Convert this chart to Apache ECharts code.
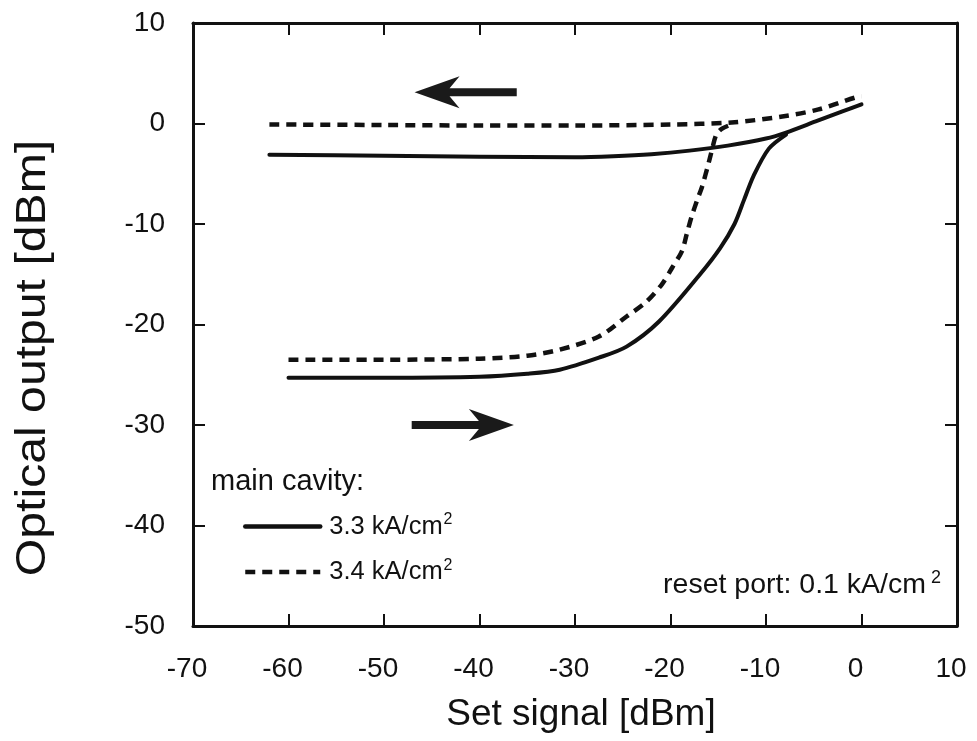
<!DOCTYPE html>
<html>
<head>
<meta charset="utf-8">
<script src="https://cdn.jsdelivr.net/npm/echarts@6/dist/echarts.min.js"></script>
<style>
  html, body { margin: 0; padding: 0; background: #fff; }
  #chart { width: 977px; height: 741px; }
</style>
</head>
<body>
<div id="chart"></div>
<script>
// Axis ranges and ticks
const xRange = [-70, 10];
const yRange = [-50, 10];
const tickStep = 10;

// Series names (main cavity current density)
const nameA = '3.3 kA/cm²';
const nameB = '3.4 kA/cm²';

// 3.3 kA/cm², decreasing sweep (upper branch)
const upperA_x = [-62, -50, -40, -30, -26, -22, -18, -14, -10, -7.9, -4.8, -2, 0];
const upperA_y = [-3.1, -3.2, -3.3, -3.35, -3.25, -3.05, -2.7, -2.2, -1.5, -0.9, 0.2, 1.2, 1.9];

// 3.3 kA/cm², increasing sweep (lower branch)
const lowerA_x = [-60, -50, -40, -35, -31.6, -27.5, -24.6, -21.2, -16.9, -14.8, -13.3, -12.3, -11.3, -9.7, -7.9];
const lowerA_y = [-25.3, -25.3, -25.2, -24.9, -24.5, -23.3, -22.2, -19.7, -15.0, -12.4, -10.0, -7.6, -5.2, -2.5, -1.1];

// 3.4 kA/cm², decreasing sweep (upper branch)
const upperB_x = [-62, -50, -40, -30, -20, -13.6, -8.3, -4.5, -0.6, 0];
const upperB_y = [-0.1, -0.15, -0.2, -0.2, -0.1, 0.1, 0.7, 1.4, 2.6, 2.7];

// 3.4 kA/cm², increasing sweep (lower branch)
const lowerB_x = [-60, -50, -40, -35, -31.6, -27.5, -24.6, -22.6, -20.9, -19.8, -18.8, -18.3, -17.8, -17.2, -16.7, -16.0, -15.6, -15.2, -14.6, -13.6];
const lowerB_y = [-23.5, -23.5, -23.4, -23.1, -22.5, -21.2, -19.2, -17.8, -16.0, -14.3, -12.7, -11.0, -9.3, -7.6, -6.3, -3.9, -2.4, -1.1, -0.5, -0.1];

// Sweep direction arrows: [tail x, y, tip x]
const sweepArrows = [
  [-36.1, 3.1, -46.8],
  [-47.1, -30.0, -36.4]
];

const zip = (xs, ys) => xs.map((x, i) => [x, ys[i]]);

const FONT = '"Liberation Sans", Arial, Helvetica, sans-serif';
const INK = '#111';

const solidStyle = { color: INK, width: 4, type: 'solid', cap: 'round', join: 'round' };
const dashStyle = { color: INK, width: 4.5, type: [10, 7], cap: 'butt', join: 'round' };

function lineSeries(name, data, style) {
  return {
    name: name,
    type: 'line',
    data: data,
    xAxisIndex: 0,
    yAxisIndex: 0,
    smooth: 0.3,
    showSymbol: false,
    symbol: 'none',
    color: INK,
    lineStyle: style,
    silent: true,
    animation: false
  };
}

function axisCommon() {
  return {
    type: 'value',
    interval: tickStep,
    splitLine: { show: false },
    axisLine: { show: true, onZero: false, lineStyle: { color: INK, width: 3 } },
    axisTick: { show: true, inside: true, length: 12, lineStyle: { color: INK, width: 2 } }
  };
}

const chart = echarts.init(document.getElementById('chart'), null, { renderer: 'canvas' });

chart.setOption({
  animation: false,
  backgroundColor: '#fff',
  grid: { left: 193, right: 20, top: 23, bottom: 115, containLabel: false },
  xAxis: [
    Object.assign(axisCommon(), {
      min: xRange[0], max: xRange[1], position: 'bottom',
      axisLabel: { color: INK, fontSize: 28, fontFamily: FONT, margin: 29, padding: [0, 12, 0, 0] },
      name: 'Set signal [dBm]', nameLocation: 'middle', nameGap: 70,
      nameTextStyle: { color: INK, fontSize: 37, fontFamily: FONT, padding: [0, 0, 0, 12] }
    }),
    Object.assign(axisCommon(), {
      min: xRange[0], max: xRange[1], position: 'top',
      axisLabel: { show: false }
    })
  ],
  yAxis: [
    Object.assign(axisCommon(), {
      min: yRange[0], max: yRange[1], position: 'left',
      axisLabel: { color: INK, fontSize: 28, fontFamily: FONT, margin: 28 }
    }),
    Object.assign(axisCommon(), {
      min: yRange[0], max: yRange[1], position: 'right',
      axisLabel: { show: false }
    })
  ],
  legend: {
    data: [nameA, nameB],
    orient: 'vertical',
    left: 243,
    top: 512,
    padding: 0,
    itemWidth: 75,
    itemHeight: 16,
    itemGap: 18,
    selectedMode: false,
    itemStyle: { opacity: 0 },
    lineStyle: { width: 4.5 },
    formatter: function (n) {
      return '{t|' + n.replace('²', '') + '}{s|2}';
    },
    textStyle: {
      color: INK,
      fontFamily: FONT,
      padding: [0, 0, 0, 4],
      rich: {
        t: { fontSize: 25.5, fontFamily: FONT, color: INK },
        s: { fontSize: 16, fontFamily: FONT, color: INK, padding: [0, 0, 13, 1] }
      }
    }
  },
  graphic: [
    {
      type: 'text', x: 33, y: 358, rotation: Math.PI / 2, scaleX: 1.12, silent: true,
      style: {
        text: 'Optical output [dBm]', font: '43px ' + FONT, fill: INK,
        align: 'center', verticalAlign: 'middle'
      }
    },
    {
      type: 'text', left: 211, top: 467, silent: true,
      style: { text: 'main cavity:', font: '29px ' + FONT, fill: INK }
    },
    {
      type: 'text', right: 36, top: 569, silent: true,
      style: {
        text: '{t|reset port: 0.1 kA/cm}{s| 2}',
        fill: INK,
        rich: {
          t: { fontSize: 28.5, fontFamily: FONT, fill: INK },
          s: { fontSize: 18, fontFamily: FONT, fill: INK, padding: [0, 0, 15, 0] }
        }
      }
    }
  ],
  series: [
    lineSeries(nameA, zip(upperA_x, upperA_y), solidStyle),
    lineSeries(nameA, zip(lowerA_x, lowerA_y), solidStyle),
    lineSeries(nameB, zip(upperB_x, upperB_y), dashStyle),
    lineSeries(nameB, zip(lowerB_x, lowerB_y), dashStyle),
    {
      name: 'sweep',
      type: 'custom',
      xAxisIndex: 0,
      yAxisIndex: 0,
      silent: true,
      clip: false,
      data: sweepArrows,
      renderItem: function (params, api) {
        const tail = api.coord([api.value(0), api.value(1)]);
        const tip = api.coord([api.value(2), api.value(1)]);
        const dir = tip[0] > tail[0] ? 1 : -1;
        const headLen = 45, headHalf = 16, shaftHalf = 4;
        const neck = tip[0] - dir * headLen;
        const y = tip[1];
        return {
          type: 'polygon',
          shape: {
            points: [
              [tail[0], y - shaftHalf],
              [neck + dir * 10, y - shaftHalf],
              [neck, y - headHalf],
              [tip[0], y],
              [neck, y + headHalf],
              [neck + dir * 10, y + shaftHalf],
              [tail[0], y + shaftHalf]
            ]
          },
          style: { fill: '#1a1a1a' }
        };
      }
    }
  ]
});
</script>
</body>
</html>
